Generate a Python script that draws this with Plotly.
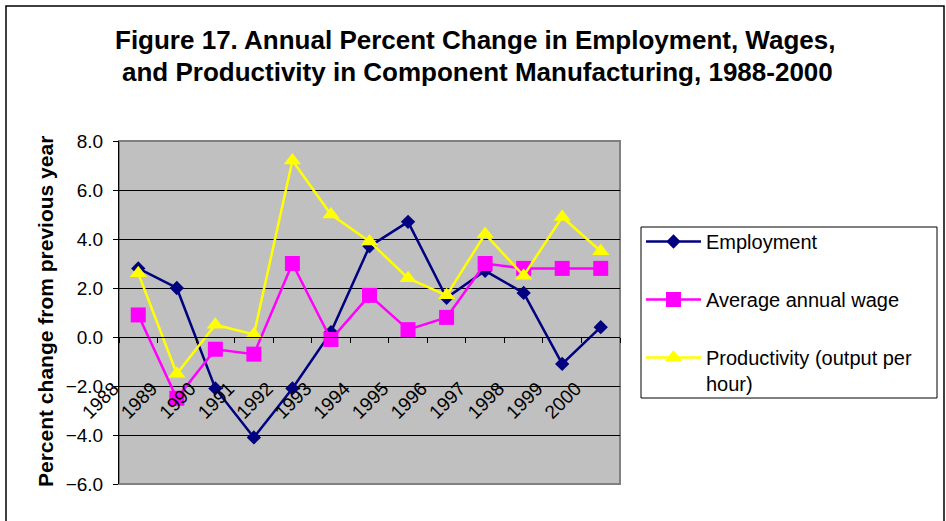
import plotly.graph_objects as go

# Annual percent change, 1988-2000
years = ["1988", "1989", "1990", "1991", "1992", "1993", "1994",
         "1995", "1996", "1997", "1998", "1999", "2000"]
employment = [2.8, 2.0, -2.1, -4.1, -2.1, 0.2, 3.7, 4.7, 1.6, 2.7, 1.8, -1.1, 0.4]
avg_wage = [0.9, -2.5, -0.5, -0.7, 3.0, -0.1, 1.7, 0.3, 0.8, 3.0, 2.8, 2.8, 2.8]
productivity = [2.6, -1.5, 0.5, 0.1, 7.2, 5.0, 3.9, 2.4, 1.7, 4.2, 2.5, 4.9, 3.5]

series_names = ["Employment", "Average annual wage",
                "Productivity (output per<br>hour)"]

W, H = 946, 521
FONT = "Liberation Sans, Arial, sans-serif"

# plot area in pixels
px_left, px_right, px_top, px_bottom = 119, 620, 141, 484
x_dom = [px_left / W, px_right / W]
y_dom = [1 - px_bottom / H, 1 - px_top / H]
y_min, y_max = -6, 8
zero_pos = y_dom[0] + (0 - y_min) / (y_max - y_min) * (y_dom[1] - y_dom[0])

# legend box in pixels
lg_left, lg_right, lg_top, lg_bottom = 641, 937, 227, 398

fig = go.Figure()
styles = [
    dict(color="#000080", symbol="diamond", size=11),
    dict(color="#FF00FF", symbol="square", size=15),
    dict(color="#FFFF00", symbol="triangle-up", size=15),
]
for i, (name, vals, st) in enumerate(zip(series_names,
                                         [employment, avg_wage, productivity],
                                         styles)):
    fig.add_trace(go.Scatter(
        x=years, y=vals, name=name, mode="lines+markers",
        legendgroup=f"g{i}",
        line=dict(color=st["color"], width=2.5),
        marker=dict(color=st["color"], symbol=st["symbol"], size=st["size"],
                    line=dict(width=0)),
    ))

fig.update_layout(
    width=W, height=H,
    margin=dict(l=0, r=0, t=0, b=0),
    paper_bgcolor="white",
    plot_bgcolor="#C0C0C0",
    font=dict(family=FONT, size=18, color="black"),
    xaxis=dict(
        type="category", domain=x_dom, anchor="free", position=zero_pos,
        range=[-0.5, len(years) - 0.5],
        showgrid=False, showline=True, linecolor="black", linewidth=1,
        ticks="outside", ticklen=5, tickcolor="black", tickson="boundaries",
        tickangle=-45, tickfont=dict(size=19), zeroline=False,
        ticklabelstandoff=32, ticklabelshift=-25, automargin=False,
    ),
    yaxis=dict(
        domain=y_dom, range=[y_min, y_max], dtick=2, tickformat=".1f",
        showgrid=True, gridcolor="black", gridwidth=1,
        showline=True, linecolor="black", linewidth=1,
        ticks="outside", ticklen=5, tickcolor="black",
        zeroline=False, tickfont=dict(size=19), ticklabelstandoff=6,
        automargin=False,
    ),
    legend=dict(
        x=lg_left / W, y=1 - 222 / H, xanchor="left", yanchor="top",
        bgcolor="rgba(0,0,0,0)", borderwidth=0,
        font=dict(size=20), tracegroupgap=29, valign="top",
        itemwidth=55,
    ),
    showlegend=True,
)

# outer chart frame
fig.add_shape(type="rect", xref="paper", yref="paper",
              x0=6 / W, x1=944 / W, y0=-0.2, y1=1 - 6 / H,
              line=dict(color="black", width=1.5), layer="below")
# plot area border (gray)
fig.add_shape(type="rect", xref="paper", yref="paper",
              x0=x_dom[0], x1=x_dom[1], y0=y_dom[0], y1=y_dom[1],
              line=dict(color="#808080", width=2), layer="below")
# legend frame
fig.add_shape(type="rect", xref="paper", yref="paper",
              x0=lg_left / W, x1=lg_right / W,
              y0=1 - lg_bottom / H, y1=1 - lg_top / H,
              line=dict(color="black", width=1), fillcolor="white",
              layer="below")

# title lines
fig.add_annotation(text="<b>Figure 17. Annual Percent Change in Employment, Wages,</b>",
                   xref="paper", yref="paper", x=475 / W, y=1 - 40 / H,
                   showarrow=False, font=dict(size=26), xanchor="center",
                   yanchor="middle")
fig.add_annotation(text="<b>and Productivity in Component Manufacturing, 1988-2000</b>",
                   xref="paper", yref="paper", x=477 / W, y=1 - 72 / H,
                   showarrow=False, font=dict(size=26), xanchor="center",
                   yanchor="middle")
# y axis title
fig.add_annotation(text="<b>Percent change from previous year</b>",
                   xref="paper", yref="paper", x=45 / W, y=1 - 312 / H,
                   showarrow=False, font=dict(size=21), textangle=-90,
                   xanchor="center", yanchor="middle")

fig.write_html("out.html")
